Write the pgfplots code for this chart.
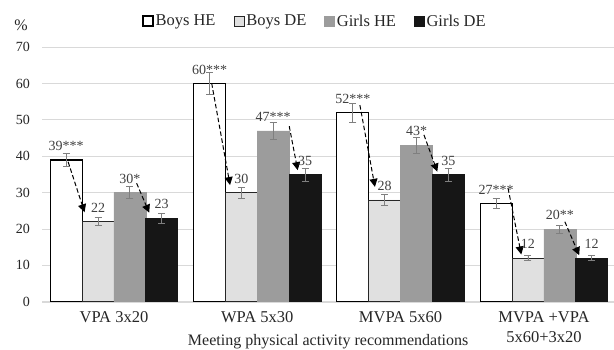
\documentclass[border=0pt]{standalone}
\usepackage{pgfplots}
\pgfplotsset{compat=1.18}
\usepackage{pgfplotstable}
\usepackage{fontspec}
\setmainfont{Liberation Serif}
\usetikzlibrary{arrows.meta}
\definecolor{bde}{HTML}{E0E0E0}
\definecolor{ghe}{HTML}{9C9C9C}
\definecolor{gde}{HTML}{161616}
\definecolor{gridc}{HTML}{D9D9D9}
\definecolor{txt}{HTML}{404040}
\definecolor{errc}{HTML}{7F7F7F}

% x = group index + bar offset (Boys HE -1/3, Boys DE -1/9, Girls HE +1/9, Girls DE +1/3)
\pgfplotstableread{
x y e lab
-0.3333 39 1.8 39***
0.6667 60 3.0 60***
1.6667 52 2.6 52***
2.6667 27 1.4 27***
}\bhe
\pgfplotstableread{
x y e lab
-0.1111 22 1.1 22
0.8889 30 1.5 30
1.8889 28 1.4 28
2.8889 12 0.6 12
}\bde
\pgfplotstableread{
x y e lab
0.1111 30 1.7 30*
1.1111 47 2.4 47***
2.1111 43 2.1 43*
3.1111 20 1.1 20**
}\ghe
\pgfplotstableread{
x y e lab
0.3333 23 1.35 23
1.3333 35 1.8 35
2.3333 35 1.8 35
3.3333 12 0.6 12
}\gde

\pgfplotsset{
  mybar/.style={
    ybar, bar width=0.223, bar shift=0pt,
    legend image code/.code={\draw[##1] (0pt,-5pt) rectangle (10pt,5pt);},
    error bars/y dir=both, error bars/y explicit,
    error bars/error bar style={errc, line width=0.9pt, solid},
    error bars/error mark options={rotate=90, errc, mark size=3.5pt, line width=0.9pt, solid},
    nodes near coords, point meta=explicit symbolic,
    every node near coord/.append style={font=\fontsize{14}{16}\selectfont, text=txt, anchor=center, yshift=14pt},
  },
  myarrow/.style={sharp plot, forget plot, draw=black, line width=1pt,
    dash pattern=on 4.5pt off 2.5pt, -{Triangle[length=8pt,width=8pt]}},
}

\begin{document}
\begin{tikzpicture}
\begin{axis}[
  at={(42.3pt,48.3pt)}, anchor=south west,
  width=571.7pt, height=254.4pt, scale only axis,
  xmin=-0.5, xmax=3.489, ymin=0, ymax=70,
  ytick={0,10,...,70},
  xtick={0,1,2,3},
  xticklabels={VPA 3x20, WPA 5x30, MVPA 5x60, {MVPA +VPA\\5x60+3x20}},
  xticklabel style={align=center, font=\fontsize{16.5}{20}\selectfont, text=black!85, yshift=-6pt},
  yticklabel style={font=\fontsize{14}{16}\selectfont, text=black!85, xshift=-9pt},
  /pgf/number format/assume math mode=true,
  major tick length=0pt, tick style={draw=none},
  ymajorgrids, grid style={gridc, line width=1pt},
  axis x line*=bottom, axis y line*=left,
  x axis line style={gridc, line width=2pt, -},
  y axis line style={draw=none},
  xlabel={Meeting physical activity recommendations},
  xlabel style={at={(axis description cs:0.5,0)}, anchor=center, yshift=-40pt, font=\fontsize{16}{19}\selectfont, text=black!85},
  ylabel={\%},
  ylabel style={rotate=-90, at={(axis description cs:-0.0373,1.0877)}, anchor=center, font=\fontsize{16}{19}\selectfont, text=black!85},
  legend columns=4,
  legend style={at={(0.477,1.103)}, anchor=center, draw=none, fill=none,
    font=\fontsize{16.5}{19}\selectfont, text=black!85,
    /tikz/every even column/.append style={column sep=16pt}},
  clip=false,
]
\addplot[mybar, fill=white, draw=black, line width=1.2pt] table[x=x,y=y,y error=e,meta=lab]{\bhe};
\addplot[mybar, fill=bde, draw=black!85, line width=0.8pt] table[x=x,y=y,y error=e,meta=lab]{\bde};
\addplot[mybar, fill=ghe, draw=ghe, line width=0.5pt] table[x=x,y=y,y error=e,meta=lab]{\ghe};
\addplot[mybar, fill=gde, draw=gde, line width=0.5pt] table[x=x,y=y,y error=e,meta=lab]{\gde};
\legend{Boys HE, Boys DE, Girls HE, Girls DE}
\addplot[myarrow] coordinates {(-0.32,38.5) (-0.205,24.6)};
\addplot[myarrow] coordinates {(0.158,32.6) (0.246,24.5)};
\addplot[myarrow] coordinates {(0.682,60.1) (0.81,32.1)};
\addplot[myarrow] coordinates {(1.223,48.3) (1.282,36.2)};
\addplot[myarrow] coordinates {(1.716,54.1) (1.821,31.6)};
\addplot[myarrow] coordinates {(2.163,45.9) (2.256,35.8)};
\addplot[myarrow] coordinates {(2.75,31.2) (2.842,13.0)};
\addplot[myarrow] coordinates {(3.146,22.0) (3.246,12.8)};
\end{axis}
\pgfresetboundingbox
\useasboundingbox (0,0) rectangle (614pt,350pt);
\end{tikzpicture}
\end{document}
